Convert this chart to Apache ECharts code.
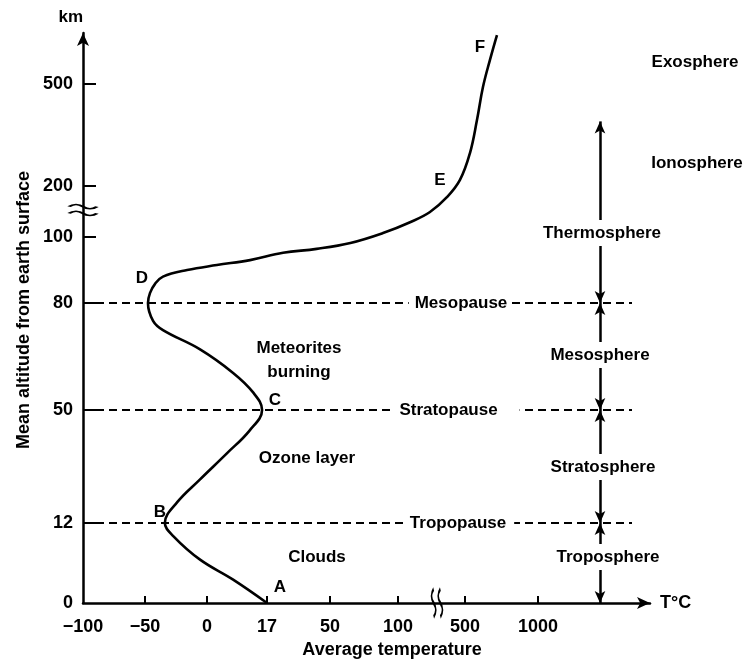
<!DOCTYPE html>
<html>
<head>
<meta charset="utf-8">
<script src="https://cdn.jsdelivr.net/npm/echarts@6/dist/echarts.min.js"></script>
<style>html,body{margin:0;padding:0;background:#fff}#c{width:752px;height:661px}</style>
</head>
<body>
<div id="c"></div>
<script>
// ---- data ----
const tempTicks = [-100, -50, 0, 17, 50, 100, 500, 1000];
const tempTickLabels = ['\u2212100', '\u221250', '0', '17', '50', '100', '500', '1000'];
const altTicks = [0, 12, 50, 80, 100, 200, 500];
const altTickLabels = ['0', '12', '50', '80', '100', '200', '500'];

// temperature profile (deg C) vs altitude (km)
const curveTemp = [17, 7.4, -5.6, -27, -34, -24, -6, 5.7, 12, 15.6, 13, 7.4, -5.6, -35.5, -43.5, -47.6, -46, -41.9, -35.5, -16, 2.8, 12.2, 25.4, 43, 65, 89, 172, 291, 392, 470, 534, 582, 623, 671, 719];
const curveAlt  = [0, 3.5, 6.5, 10, 12, 19, 26.5, 35.5, 43, 50, 55, 60.4, 67, 72.4, 75, 80, 83, 85.8, 88, 90, 91.5, 93, 95.2, 96.4, 98.2, 107.8, 129, 149, 178, 218, 297, 394, 491, 571, 644];

// layer boundaries (km)
const boundaryAlt = [12, 50, 80];
const boundaryNames = ['Tropopause', 'Stratopause', 'Mesopause'];
const layerNames = ['Troposphere', 'Stratosphere', 'Mesosphere', 'Thermosphere'];
const thermoTopAlt = 390;

// ---- layout of the schematic (non-linear) axes ----
const tempScale = [0, 62, 124, 184, 247, 315, 382, 455];
const altScale = [0, 80, 193, 300, 366, 417, 519];
const xMax = 567, yMax = 570;

function piecewise(v, src, dst) {
  let i = 0;
  while (i < src.length - 2 && v > src[i + 1]) i++;
  const t = (v - src[i]) / (src[i + 1] - src[i]);
  return dst[i] + t * (dst[i + 1] - dst[i]);
}
const toX = t => piecewise(t, tempTicks, tempScale);
const toY = a => piecewise(a, altTicks, altScale);

const FONT = "'Liberation Sans', Arial, sans-serif";
const black = '#000';

const curveData = curveTemp.map((t, i) => [toX(t), toY(curveAlt[i])]);

// dashed boundary lines
const lineEndX = 549;
const boundaryLines = boundaryAlt.map(a => [{ coord: [0, toY(a)] }, { coord: [lineEndX, toY(a)] }]);

// vertical layer arrow
const layerX = 517;
const stops = [0].concat(boundaryAlt, [thermoTopAlt]);
const layerArrows = [];
for (let i = 0; i < stops.length - 1; i++) {
  layerArrows.push([{ coord: [layerX, toY(stops[i])] }, { coord: [layerX, toY(stops[i + 1])] }]);
}
layerArrows.push([{ coord: [614, 528] }, { coord: [614, 390] }]); // ionosphere

const bg = { backgroundColor: '#fff', padding: [1, 5, 1, 5] };
const annotations = [
  { name: 'A', value: [197, 16] },
  { name: 'B', value: [77, 91] },
  { name: 'C', value: [192, 203] },
  { name: 'D', value: [59, 325] },
  { name: 'E', value: [357, 423] },
  { name: 'F', value: [397, 556] },
  { name: 'Meteorites\nburning', value: [216, 243] },
  { name: 'Ozone layer', value: [224, 145] },
  { name: 'Clouds', value: [234, 46] },
  { name: boundaryNames[2], value: [377, toY(80)], label: Object.assign({}, bg, { padding: [1, 4, 1, 6] }) },
  { name: boundaryNames[1], value: [373, toY(50)], label: Object.assign({}, bg, { padding: [1, 22, 1, 7] }) },
  { name: boundaryNames[0], value: [377, toY(12)], label: Object.assign({}, bg, { padding: [1, 8, 1, 4] }) },
  { name: layerNames[3], value: [519, 370], label: bg },
  { name: layerNames[2], value: [517, 248], label: bg },
  { name: layerNames[1], value: [520, 136], label: bg },
  { name: layerNames[0], value: [525, 46], label: bg },
  { name: 'Exosphere', value: [612, 541] },
  { name: 'Ionosphere', value: [614, 440], label: bg }
];

const chart = echarts.init(document.getElementById('c'));
chart.setOption({
  animation: false,
  backgroundColor: '#fff',
  textStyle: { fontFamily: FONT, color: black },
  grid: { left: 83, top: 33, right: 102, bottom: 58, containLabel: false },
  xAxis: {
    type: 'value', min: 0, max: xMax,
    name: 'T\u00b0C', nameLocation: 'end', nameGap: 10,
    nameTextStyle: { fontSize: 18, fontWeight: 'bold', color: black, verticalAlign: 'middle', align: 'left' },
    splitLine: { show: false },
    axisLine: { show: true, onZero: false, symbol: ['none', 'arrow'], symbolSize: [9, 13], lineStyle: { color: black, width: 2.5 } },
    axisTick: { show: true, inside: true, length: 7, customValues: tempScale.slice(1), lineStyle: { color: black, width: 2 } },
    axisLabel: {
      show: true, customValues: tempScale, margin: 15, fontSize: 18, fontWeight: 'bold', color: black, fontFamily: FONT,
      formatter: v => { const i = tempScale.findIndex(p => Math.abs(p - v) < 0.5); return i >= 0 ? tempTickLabels[i] : ''; }
    }
  },
  yAxis: {
    type: 'value', min: 0, max: yMax,
    name: 'km', nameLocation: 'end', nameGap: 7,
    nameTextStyle: { fontSize: 17, fontWeight: 'bold', color: black, align: 'right', verticalAlign: 'bottom' },
    splitLine: { show: false },
    axisLine: { show: true, onZero: false, symbol: ['none', 'arrow'], symbolSize: [9, 13], lineStyle: { color: black, width: 2.5 } },
    axisTick: { show: true, inside: true, length: 13, customValues: altScale.slice(1), lineStyle: { color: black, width: 2 } },
    axisLabel: {
      show: true, customValues: altScale, margin: 10, fontSize: 18, fontWeight: 'bold', color: black, fontFamily: FONT,
      formatter: v => { const i = altScale.findIndex(p => Math.abs(p - v) < 0.5); return i >= 0 ? altTickLabels[i] : ''; }
    }
  },
  graphic: [
    { type: 'text', x: 392, y: 650, style: { text: 'Average temperature', align: 'center', verticalAlign: 'middle', font: 'bold 18px ' + FONT, fill: black } },
    { type: 'text', x: 24, y: 310, rotation: Math.PI / 2, style: { text: 'Mean altitude from earth surface', align: 'center', verticalAlign: 'middle', font: 'bold 18px ' + FONT, fill: black } }
  ],
  series: [
    {
      name: 'Temperature', type: 'line', data: curveData, smooth: 0.4, symbol: 'none', clip: false,
      lineStyle: { color: black, width: 2.6 }, z: 3
    },
    {
      name: 'Boundaries', type: 'line', data: [], clip: false, z: 2,
      markLine: {
        silent: true, symbol: 'none', label: { show: false },
        lineStyle: { color: black, width: 2.2, type: [8, 5], opacity: 1 },
        data: boundaryLines
      }
    },
    {
      name: 'Layers', type: 'line', data: [], clip: false, z: 2,
      markLine: {
        silent: true, symbol: ['arrow', 'arrow'], symbolSize: [8, 12], label: { show: false },
        lineStyle: { color: black, width: 2.5, type: 'solid', opacity: 1 },
        itemStyle: { color: black, opacity: 1 },
        data: layerArrows
      }
    },
    {
      name: 'Labels', type: 'scatter', data: annotations, symbolSize: 0, clip: false, z: 10,
      itemStyle: { opacity: 1 },
      label: { show: true, position: 'inside', formatter: '{b}', fontSize: 17, fontWeight: 'bold', color: black, opacity: 1, fontFamily: FONT, lineHeight: 24, align: 'center', verticalAlign: 'middle' }
    },
    {
      name: 'Breaks', type: 'scatter', clip: false, z: 11,
      data: [
        { value: [0, 393], symbol: 'path://M0,3 C5,0 10,0 15,3 C20,6 25,6 30,3 M0,10 C5,7 10,7 15,10 C20,13 25,13 30,10', symbolSize: [28, 11] },
        { value: [354, 0], symbol: 'path://M3,0 C0,5 0,10 3,15 C6,20 6,25 3,30 M10,0 C7,5 7,10 10,15 C13,20 13,25 10,30', symbolSize: [11, 28] }
      ],
      itemStyle: { color: 'rgba(0,0,0,0)', borderColor: black, borderWidth: 2.5, opacity: 1 }
    }
  ]
});
</script>
</body>
</html>
